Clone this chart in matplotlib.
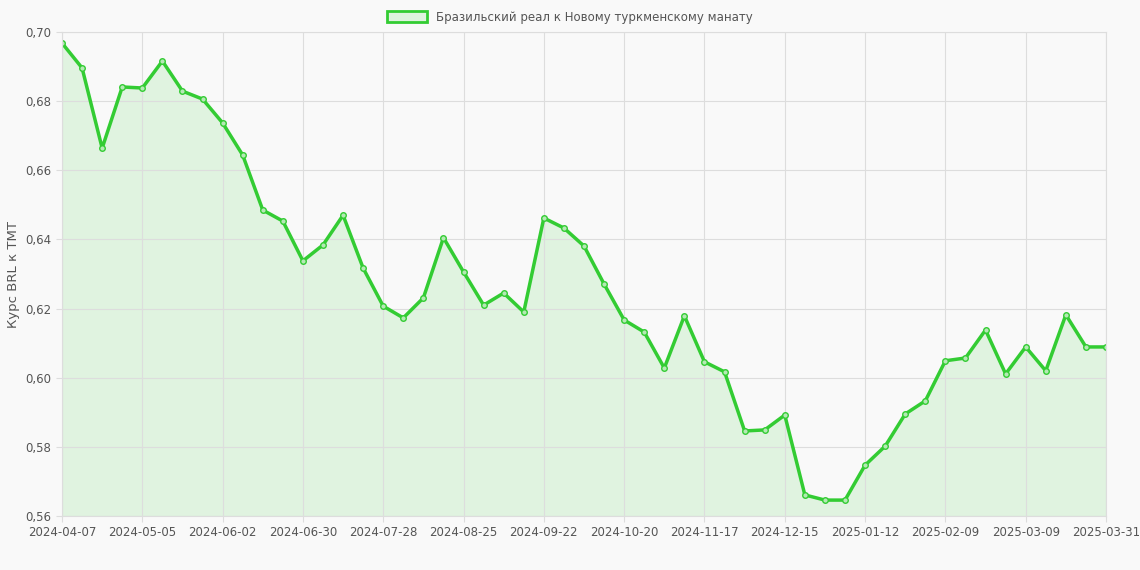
import matplotlib
matplotlib.use("Agg")
import matplotlib.pyplot as plt

tick_labels = ["2024-04-07","2024-05-05","2024-06-02","2024-06-30","2024-07-28","2024-08-25",
               "2024-09-22","2024-10-20","2024-11-17","2024-12-15","2025-01-12","2025-02-09",
               "2025-03-09","2025-03-31"]
values = [0.6968,0.6896,0.6664,0.6841,0.6838,0.6916,0.6829,0.6806,0.6737,0.6644,
          0.6485,0.6453,0.6338,0.6384,0.6470,0.6317,0.6207,0.6173,0.6231,0.6405,
          0.6306,0.6210,0.6245,0.6190,0.6462,0.6433,0.6381,0.6271,0.6167,0.6132,
          0.6028,0.6179,0.6046,0.6017,0.5846,0.5849,0.5892,0.5661,0.5646,0.5646,
          0.5747,0.5802,0.5895,0.5933,0.6049,0.6057,0.6138,0.6011,0.6089,0.6020,
          0.6182,0.6089,0.6089]
x = list(range(len(values)))
tick_pos = [0,4,8,12,16,20,24,28,32,36,40,44,48,52]

fig = plt.figure(figsize=(11.4,5.7), dpi=100, facecolor="#f9f9f9")
ax = fig.add_axes([62/1140, 1-516/570, (1106-62)/1140, (516-32)/570])
ax.set_facecolor("#f9f9f9")
col = "#33cc33"
ax.fill_between(x, values, 0.56, color=col, alpha=0.12, lw=0)
ax.plot(x, values, color=col, lw=2.5, marker="o", ms=4, mfc="#b5e9b5", mec=col, mew=1)
ax.set_xlim(0, 52)
ax.set_ylim(0.56, 0.70)
ax.set_yticks([0.56,0.58,0.60,0.62,0.64,0.66,0.68,0.70])
ax.set_yticklabels([f"{v:.2f}".replace(".", ",") for v in ax.get_yticks()])
ax.set_xticks(tick_pos)
ax.set_xticklabels(tick_labels)
ax.grid(True, color="#dddddd", lw=0.8)
for s in ax.spines.values():
    s.set_color("#dddddd")
ax.tick_params(colors="#555555", labelsize=8.5, length=4, color="#dddddd")
ax.set_ylabel("Курс BRL к TMT", color="#555555", fontsize=9.5)
fig.legend(handles=[plt.Rectangle((0,0),1,1, fc="#dff3df", ec=col, lw=2)],
           labels=["Бразильский реал к Новому туркменскому манату"],
           loc="upper center", bbox_to_anchor=(0.5, 1.0), frameon=False,
           fontsize=8.5, handlelength=3.4, handleheight=1.0, labelcolor="#555555")
fig.savefig("out.png", dpi=100, facecolor=fig.get_facecolor())
